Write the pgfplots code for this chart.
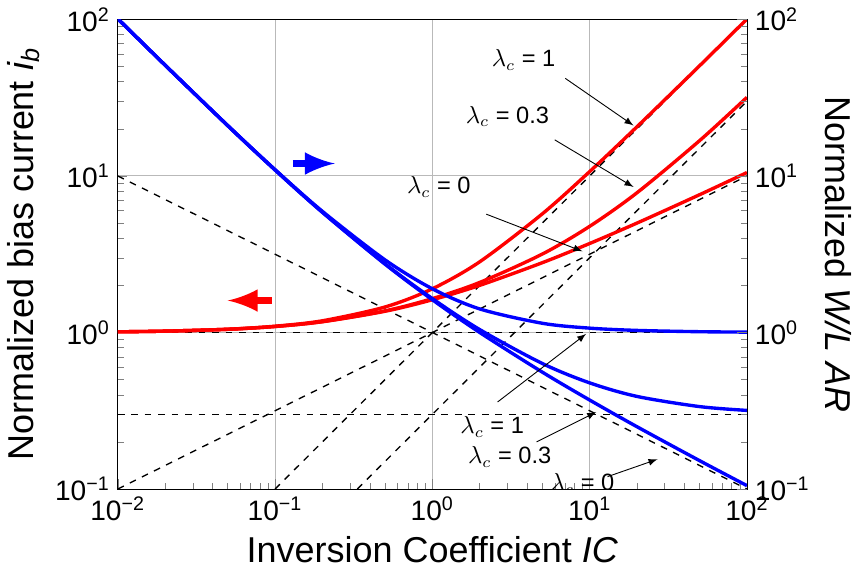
\documentclass[border=0pt]{standalone}
\usepackage{pgfplots}
\pgfplotsset{compat=1.18}
\usepackage{pgfplotstable}
\usepackage{fontspec}
\setmainfont{Liberation Sans}
\pgfplotstableread{
ic b0 b3 b1
0.01 1.010 1.010 1.010
0.02 1.020 1.020 1.020
0.05 1.048 1.048 1.049
0.1 1.092 1.092 1.097
0.2 1.171 1.173 1.188
0.5 1.366 1.374 1.455
1 1.618 1.646 1.902
2 2.000 2.088 2.828
5 2.791 3.169 5.726
10 3.702 4.765 10.66
20 5.000 7.810 20.62
50 7.589 16.81 50.57
100 10.512 31.79 100.55
}\data
\begin{document}
\begin{tikzpicture}
\begin{axis}[at={(0,0)},
  xmode=log, ymode=log, width=280pt, height=209pt, scale only axis,
  xmin=0.01, xmax=100, ymin=0.1, ymax=100,
  xtick={0.01,0.1,1,10,100}, ytick={0.1,1,10,100},
  xticklabels={10\textsuperscript{−2},10\textsuperscript{−1},10\textsuperscript{0},10\textsuperscript{1},10\textsuperscript{2}},
  yticklabels={10\textsuperscript{−1},10\textsuperscript{0},10\textsuperscript{1},10\textsuperscript{2}},
  tick label style={font=\fontsize{12.5}{14}\selectfont},
  minor tick num=0, minor xtick={}, minor ytick={},
  tick align=inside, xtick pos=bottom, ytick pos=left,
  grid=major, major grid style={gray!55},
  xlabel={Inversion Coefficient \textit{IC}},
  ylabel={Normalized bias current \textit{i\textsubscript{b}}},
  label style={font=\fontsize{16}{18}\selectfont},
  clip=true,
]
\addplot[black, dashed, semithick] coordinates {(0.01,1) (100,1)};
\addplot[black, dashed, semithick] coordinates {(0.01,0.3) (100,0.3)};
\addplot[black, dashed, semithick] coordinates {(0.01,0.1) (100,10)};
\addplot[black, dashed, semithick] coordinates {(0.01,10) (100,0.1)};
\addplot[black, dashed, semithick] coordinates {(0.1,0.1) (100,100)};
\addplot[black, dashed, semithick] coordinates {(0.3333,0.1) (100,30)};
\addplot[red, line width=1.5pt, smooth] table[x=ic, y=b0] {\data};
\addplot[red, line width=1.5pt, smooth] table[x=ic, y=b3] {\data};
\addplot[red, line width=1.5pt, smooth] table[x=ic, y=b1] {\data};
\addplot[blue, line width=1.5pt, smooth] table[x=ic, y expr=\thisrow{b0}/\thisrow{ic}] {\data};
\addplot[blue, line width=1.5pt, smooth] table[x=ic, y expr=\thisrow{b3}/\thisrow{ic}] {\data};
\addplot[blue, line width=1.5pt, smooth] table[x=ic, y expr=\thisrow{b1}/\thisrow{ic}] {\data};
\draw[-{latex}, blue, line width=3.5pt] (axis cs:0.13,12) -- (axis cs:0.24,12);
\draw[-{latex}, red, line width=3.5pt] (axis cs:0.095,1.6) -- (axis cs:0.05,1.6);
\begin{scope}[font=\fontsize{10.5}{12}\selectfont]
\node at (axis cs:3.8,55) {$\lambda_c$ = 1};
\draw[-latex] (axis cs:7,42) -- (axis cs:19,21);
\node at (axis cs:3.0,24) {$\lambda_c$ = 0.3};
\draw[-latex] (axis cs:6,17) -- (axis cs:19,8.5);
\node at (axis cs:1.1,8.5) {$\lambda_c$ = 0};
\draw[-latex] (axis cs:2.2,5.7) -- (axis cs:9,3.3);
\node at (axis cs:2.4,0.25) {$\lambda_c$ = 1};
\draw[-latex] (axis cs:2.6,0.36) -- (axis cs:9.5,0.98);
\node at (axis cs:3.1,0.16) {$\lambda_c$ = 0.3};
\draw[-latex] (axis cs:4.6,0.2) -- (axis cs:11,0.31);
\node at (axis cs:9,0.108) {$\lambda_c$ = 0};
\draw[-latex] (axis cs:13,0.12) -- (axis cs:27,0.155);
\end{scope}
\end{axis}
\begin{axis}[at={(0,0)},
  xmode=log, ymode=log, width=280pt, height=209pt, scale only axis,
  xmin=0.01, xmax=100, ymin=0.1, ymax=100,
  hide x axis, axis y line*=right, ytick={0.1,1,10,100},
  yticklabels={10\textsuperscript{−1},10\textsuperscript{0},10\textsuperscript{1},10\textsuperscript{2}},
  tick label style={font=\fontsize{12.5}{14}\selectfont},
  minor ytick={}, tick align=inside,
  ylabel={Normalized \textit{W/L AR}},
  ylabel style={rotate=180, font=\fontsize{16}{18}\selectfont},
]
\end{axis}
\end{tikzpicture}
\end{document}
